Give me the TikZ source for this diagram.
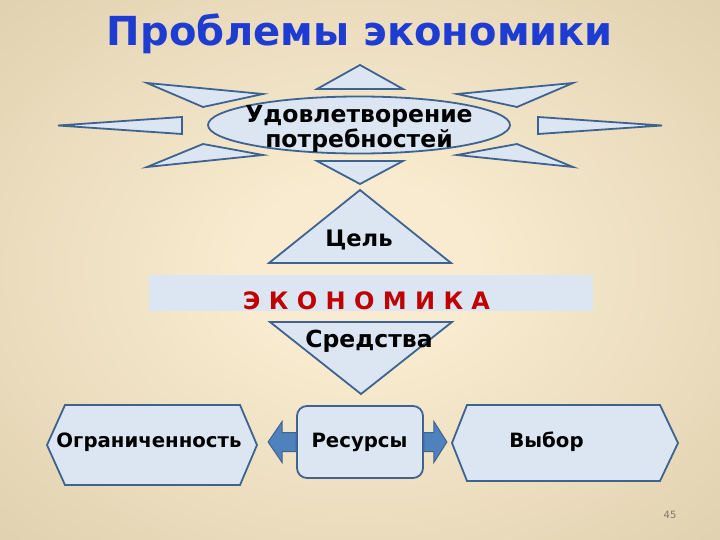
\documentclass[tikz,border=0pt]{standalone}
\usepackage{fontspec}
\setmainfont{DejaVu Sans}
\usetikzlibrary{shapes.geometric,calc}
\definecolor{bgin}{HTML}{F8EBCF}
\definecolor{bgout}{HTML}{D4C49F}
\definecolor{fillb}{HTML}{DCE6F2}
\definecolor{lineb}{HTML}{3F6390}
\definecolor{arrowb}{HTML}{4F81BD}
\definecolor{titleb}{HTML}{1E3CD2}
\definecolor{redt}{HTML}{C00000}
\definecolor{pagegray}{HTML}{7F7A6A}
\pgfdeclareradialshading{bgshade}{\pgfpoint{0bp}{0bp}}{color(0bp)=(bgin); color(8bp)=(bgin); color(50bp)=(bgout); color(72bp)=(bgout)}
\tikzset{
  ray/.style={draw=lineb, fill=fillb, line width=1.8pt},
  shapebox/.style={draw=lineb, fill=fillb, line width=1.8pt},
  lbl/.style={font=\bfseries\fontsize{23.5}{26}\selectfont, text=black, inner sep=0pt},
  lblsmall/.style={font=\bfseries\fontsize{19.7}{22}\selectfont, text=black, inner sep=0pt},
  barrow/.style={draw=lineb, fill=arrowb, line width=1pt},
}
\begin{document}
\begin{tikzpicture}[x=1pt,y=-1pt]
\shade[shading=bgshade] (0,0) rectangle (720,540);
\useasboundingbox (0,0) rectangle (720,540);

% title
\node[font=\bfseries\fontsize{40}{44}\selectfont, text=titleb, inner sep=0pt, anchor=base] (title) at (360,46) {Проблемы экономики};

% rays
\draw[ray] (147,83) -- (263,94) -- (203,107) -- cycle;
\draw[ray] (58,125.5) -- (182,117) -- (182,134) -- cycle;
\draw[ray] (147,167) -- (203,144) -- (263,155) -- cycle;
\draw[ray] (573,83) -- (457,94) -- (517,107) -- cycle;
\draw[ray] (662,125.5) -- (538,117) -- (538,134) -- cycle;
\draw[ray] (573,167) -- (517,144) -- (457,155) -- cycle;
\draw[ray] (360,65) -- (403,89) -- (317,89) -- cycle;
\draw[ray] (317,161) -- (403,161) -- (360,184) -- cycle;

% goal ellipse
\node[ellipse, shapebox, minimum width=302pt, minimum height=57pt, inner sep=0pt] (goal) at (359,125) {};
\node[lbl, anchor=base] (goal1) at (359,123) {Удовлетворение};
\node[lbl, anchor=base] (goal2) at (359,148) {потребностей};

% Цель triangle
\draw[shapebox] (360,190) -- (451,263) -- (269,263) -- cycle;
\node[lbl, font=\bfseries\fontsize{22.7}{25}\selectfont, anchor=base] (aim) at (359,247) {Цель};

% band
\fill[fillb] (149,275) rectangle (593,311);
\node[lbl, font=\bfseries\fontsize{24}{26}\selectfont, text=redt, anchor=base] (econ) at (366.5,309) {Э К О Н О М И К А};

% Средства triangle
\draw[shapebox] (270,322) -- (452,322) -- (361,394) -- cycle;
\node[lbl, anchor=base] (means) at (369,347) {Средства};

% bottom row
\draw[shapebox] (47,445) -- (65,405) -- (240,405) -- (257,445) -- (240,485) -- (65,485) -- cycle;
\node[lblsmall, anchor=base] (lim) at (149,447) {Ограниченность};

\draw[shapebox] (452,443) -- (467,405) -- (660,405) -- (678,443) -- (660,481) -- (467,481) -- cycle;
\node[lblsmall, anchor=base] (choice) at (546.5,447) {Выбор};

\node[shapebox, rounded corners=10pt, minimum width=126pt, minimum height=72pt] (res) at (360,442) {};
\node[lblsmall, anchor=base] (restxt) at (359.5,447) {Ресурсы};

% block arrows
\draw[barrow] (res.west) ++(0,-9.5) -- ++(-14,0) -- ++(0,-11) -- ++(-14,20.5) -- ++(14,20.5) -- ++(0,-11) -- ++(14,0) -- cycle;
\draw[barrow] (res.east) ++(0,-9.5) -- ++(10,0) -- ++(0,-11) -- ++(13,20.5) -- ++(-13,20.5) -- ++(0,-11) -- ++(-10,0) -- cycle;

% page number
\node[font=\fontsize{10}{12}\selectfont, text=pagegray, inner sep=0pt] (page) at (670,515) {45};
\end{tikzpicture}
\end{document}
